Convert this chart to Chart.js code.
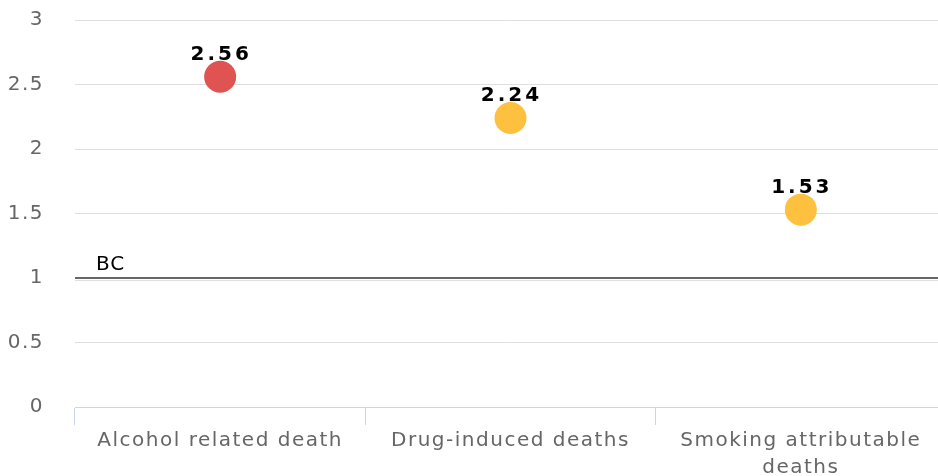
<!DOCTYPE html>
<html>
<head>
<meta charset="utf-8">
<title>Risk ratio</title>
<script src="https://cdn.jsdelivr.net/npm/chart.js@4/dist/chart.umd.min.js"></script>
<style>
    body { margin: 0; overflow: hidden; background: #fff; }
    .wrap { width: 946px; height: 476px; }
</style>
</head>
<body>
<div class="wrap">
    <canvas id="chart" width="946" height="476"></canvas>
</div>
<script>
    // data
    var categories = ["Alcohol related death", "Drug-induced deaths", ["Smoking attributable", "deaths"]];
    var ratios = [2.56, 2.24, 1.53];
    var yTicks = [0, 0.5, 1, 1.5, 2, 2.5, 3];
    var bcLevel = 1;
    var bcLabel = "BC";

    var pointColors = ['#df5353', '#fdc13f', '#fdc13f'];

    Chart.defaults.font.family = 'DejaVu Sans';
    Chart.defaults.font.size = 20;
    Chart.defaults.color = '#666';

    function spacing(chart) { chart.ctx.letterSpacing = '1.5px'; }

    // letter spacing for the whole canvas + BC line + value labels
    var extras = {
        id: 'extras',
        beforeUpdate: spacing,
        beforeLayout: spacing,
        beforeDraw: spacing,
        afterDatasetsDraw: function(chart) {
            var ctx = chart.ctx;
            var area = chart.chartArea;
            var y = chart.scales.y.getPixelForValue(bcLevel);

            ctx.save();
            ctx.strokeStyle = 'rgba(0,0,0,0.12)';
            ctx.lineWidth = 1;
            ctx.beginPath();
            ctx.moveTo(area.left, y + 2.5);
            ctx.lineTo(area.right, y + 2.5);
            ctx.stroke();
            ctx.strokeStyle = '#666';
            ctx.lineWidth = 2;
            ctx.beginPath();
            ctx.moveTo(area.left, y);
            ctx.lineTo(area.right, y);
            ctx.stroke();

            ctx.letterSpacing = '1px';
            ctx.fillStyle = '#000';
            ctx.font = '20px "DejaVu Sans"';
            ctx.textAlign = 'left';
            ctx.textBaseline = 'alphabetic';
            ctx.fillText(bcLabel, area.left + 21, y - 8);

            var meta = chart.getDatasetMeta(0);
            ctx.letterSpacing = '3px';
            ctx.font = 'bold 20px "DejaVu Sans"';
            ctx.textAlign = 'center';
            meta.data.forEach(function(pt, i) {
                ctx.fillText(ratios[i].toFixed(2), pt.x + 1, pt.y - 17);
            });
            ctx.restore();
        }
    };

    new Chart(document.getElementById('chart'), {
        type: 'line',
        data: {
            labels: categories,
            datasets: [{
                data: ratios,
                showLine: false,
                pointRadius: 16,
                pointHoverRadius: 16,
                pointBorderWidth: 0,
                pointBackgroundColor: pointColors,
                pointBorderColor: pointColors
            }]
        },
        options: {
            responsive: false,
            devicePixelRatio: 1,
            animation: false,
            layout: { autoPadding: false, padding: { top: 20, left: 0, right: 0, bottom: 0 } },
            plugins: { legend: { display: false }, tooltip: { enabled: false } },
            scales: {
                x: {
                    offset: true,
                    border: { color: '#ccd6eb', width: 1 },
                    grid: { offset: true, drawOnChartArea: false, tickLength: 18, color: '#ccd6eb' },
                    ticks: { padding: 2, color: '#666', maxRotation: 0, font: { size: 20, lineHeight: 1.35 } },
                    afterFit: function(s) { s.height = 69; s.paddingLeft = 0; s.paddingRight = 0; }
                },
                y: {
                    min: 0,
                    max: 3,
                    border: { display: false },
                    grid: {
                        drawTicks: false,
                        color: function(c) { return c.tick.value === 0 ? 'rgba(0,0,0,0)' : '#dedede'; }
                    },
                    afterBuildTicks: function(s) { s.ticks = yTicks.map(function(v) { return { value: v }; }); },
                    ticks: { padding: 31, color: '#666', callback: function(v) { return String(v); } },
                    afterFit: function(s) { s.width = 75; s.paddingTop = 0; s.paddingBottom = 0; }
                }
            }
        },
        plugins: [extras]
    });
</script>
</body>
</html>
